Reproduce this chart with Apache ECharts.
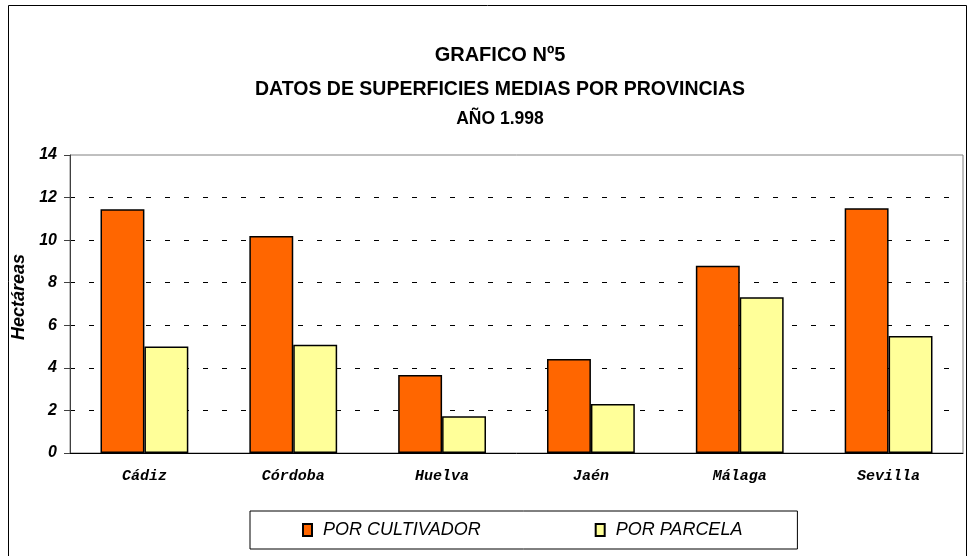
<!DOCTYPE html>
<html>
<head>
<meta charset="utf-8">
<script src="https://cdn.jsdelivr.net/npm/echarts@6/dist/echarts.min.js"></script>
<style>
  html, body { margin: 0; padding: 0; background: #fff; }
  #chart { width: 969px; height: 556px; }
</style>
</head>
<body>
<div id="chart"></div>
<script>
// datos
const provincias = ['Cádiz', 'Córdoba', 'Huelva', 'Jaén', 'Málaga', 'Sevilla'];
const porCultivador = [11.45, 10.2, 3.67, 4.42, 8.8, 11.5];
const porParcela = [5.0, 5.08, 1.73, 2.3, 7.32, 5.5];
const yTicks = [0, 2, 4, 6, 8, 10, 12, 14];

let myChart = echarts.init(document.getElementById('chart'));
let option = {
  animation: false,
  backgroundColor: '#fff',
  title: [
    { text: 'GRAFICO Nº5', left: 495, top: 40, textAlign: 'center',
      textStyle: { fontFamily: 'Liberation Sans', fontSize: 20, fontWeight: 'bold', color: '#000' } },
    { text: 'DATOS DE SUPERFICIES MEDIAS POR PROVINCIAS', left: 495, top: 75, textAlign: 'center',
      textStyle: { fontFamily: 'Liberation Sans', fontSize: 19.5, fontWeight: 'bold', color: '#000' } },
    { text: 'AÑO 1.998', left: 495, top: 105, textAlign: 'center',
      textStyle: { fontFamily: 'Liberation Sans', fontSize: 17.5, fontWeight: 'bold', color: '#000' } }
  ],
  graphic: [
    { type: 'rect', shape: { x: 8.5, y: 5.5, width: 958, height: 570 },
      style: { fill: 'none', stroke: '#000', lineWidth: 1 }, z: -1 }
  ],
  legend: {
    data: ['POR CULTIVADOR', 'POR PARCELA'],
    left: 250, top: 511,
    padding: [10, 55, 10, 52],
    itemGap: 114,
    icon: 'rect', itemWidth: 9, itemHeight: 12,
    borderColor: '#000', borderWidth: 1,
    textStyle: { fontFamily: 'Liberation Sans', fontSize: 18, fontStyle: 'italic', color: '#000', padding: [0, 0, 0, 6] }
  },
  grid: {
    left: 70, right: 6, top: 155, bottom: 103,
    show: true, borderColor: '#808080', borderWidth: 1
  },
  xAxis: {
    type: 'category',
    data: provincias,
    axisLine: { lineStyle: { color: '#000' } },
    axisTick: { show: false },
    axisLabel: { margin: 16, fontFamily: 'Liberation Mono', fontSize: 15, fontStyle: 'italic',
      fontWeight: 'bold', color: '#000' }
  },
  yAxis: {
    type: 'value',
    min: yTicks[0], max: yTicks[yTicks.length - 1], interval: 2,
    name: 'Hectáreas', nameLocation: 'middle', nameGap: 39,
    nameTextStyle: { fontFamily: 'Liberation Sans', fontSize: 18, fontStyle: 'italic', fontWeight: 'bold',
      color: '#000', padding: [0, 0, 0, 14] },
    axisLine: { show: true, lineStyle: { color: '#404040' } },
    axisTick: { show: true, length: 6, lineStyle: { color: '#404040' } },
    axisLabel: { margin: 13, fontFamily: 'Liberation Sans', fontSize: 16, fontStyle: 'italic', fontWeight: 'bold', color: '#000' },
    splitLine: { show: true, showMinLine: false, showMaxLine: false,
      lineStyle: { type: [5, 14], color: '#000', width: 1 } }
  },
  series: [
    {
      name: 'POR CULTIVADOR', type: 'bar', data: porCultivador,
      barGap: '0%', barCategoryGap: '41%',
      itemStyle: { color: '#FF6600', borderColor: '#000', borderWidth: 1.5 }
    },
    {
      name: 'POR PARCELA', type: 'bar', data: porParcela,
      itemStyle: { color: '#FFFF99', borderColor: '#000', borderWidth: 1.5 }
    }
  ]
};
option && myChart.setOption(option);
</script>
</body>
</html>
